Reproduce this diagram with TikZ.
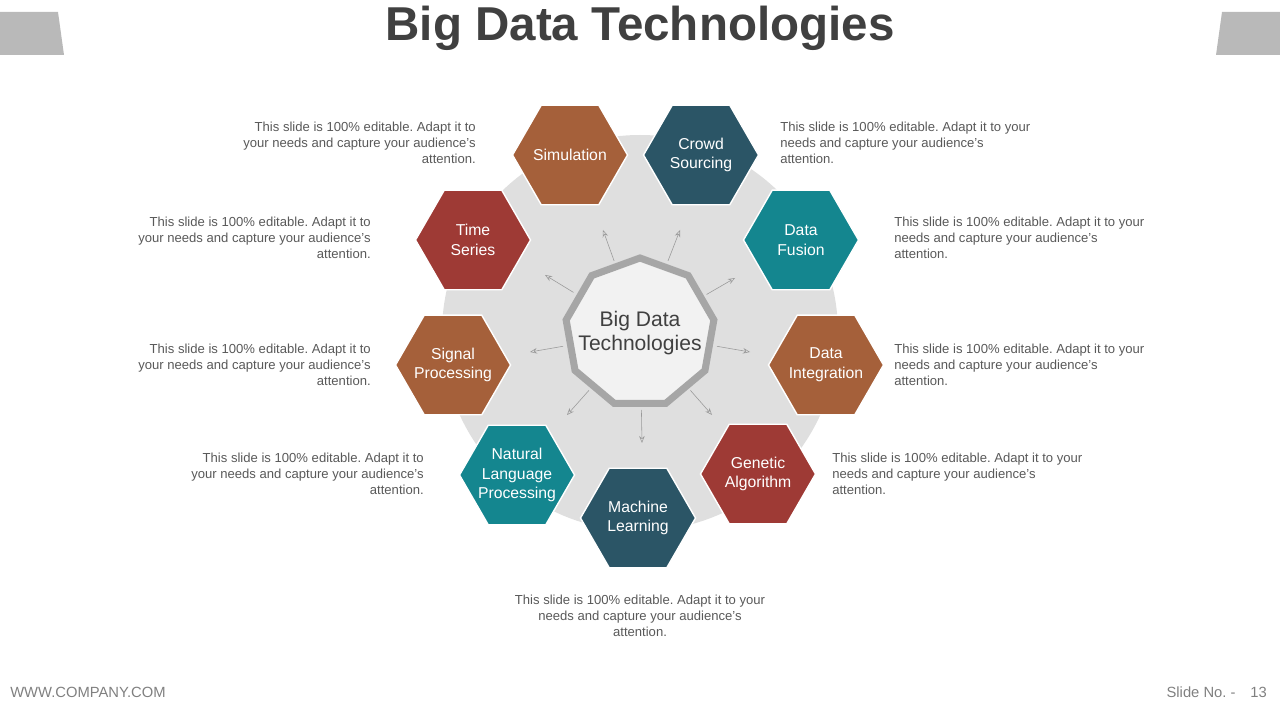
\documentclass[tikz,border=0pt]{standalone}
\usepackage{fontspec}
\setmainfont{Liberation Sans}
\frenchspacing
\usetikzlibrary{shapes.geometric, arrows.meta, calc}
\definecolor{hexbrown}{HTML}{A5603A}
\definecolor{hexdark}{HTML}{2B5566}
\definecolor{hexteal}{HTML}{14868F}
\definecolor{hexred}{HTML}{9E3A35}
\definecolor{txtgray}{HTML}{595959}
\tikzset{
  hexa/.style 2 args={regular polygon, regular polygon sides=6, minimum size=115*0.025cm,
    inner sep=0pt, draw=white, line width=1pt, fill=#1,
    label={[text=white, align=center, font=\fontsize{11.2}{14}\selectfont]center:#2}},
  note/.style={text=txtgray, font=\fontsize{9.3}{11.4}\selectfont, inner sep=0pt},
  spoke/.style={draw=gray!80, -{Stealth[length=5pt,width=4pt,open]}, line width=0.4pt}
}
\begin{document}
\begin{tikzpicture}[x=0.025cm, y=-0.025cm]
\useasboundingbox (0,0) rectangle (1280,720);
% top tabs
\fill[gray!55] (0,12) -- (58,12) -- (64,55) -- (0,55) -- cycle;
\fill[gray!55] (1280,12) -- (1222,12) -- (1216,55) -- (1280,55) -- cycle;
\node (title) at (640,28) {\fontsize{33.8}{36}\selectfont\bfseries\color{black!75} Big Data Technologies};
% back disc
\fill[gray!25] (640,333) circle (198);
% centre
\node (hub) at (640,333) [regular polygon, regular polygon sides=9, minimum size=150*0.025cm,
  inner sep=0pt, draw=gray!70, line width=5pt, fill=gray!10,
  label={[align=center, text=black!75, font=\fontsize{15}{17.5}\selectfont]center:Big Data\\Technologies}] {};
% spokes
\foreach \x/\y in {603/230, 680/230, 735/278, 750/352, 712/415, 642/443, 567/415, 530/352, 545/275}
  \draw[spoke] ($(640,333)!0.7!(\x,\y)$) -- (\x,\y);
% hexagons
\node (sim) at (570,155) [hexa={hexbrown}{Simulation}] {};
\node (crowd) at (701,155) [hexa={hexdark}{Crowd\\Sourcing}] {};
\node (fus) at (801,240) [hexa={hexteal}{Data\\Fusion}] {};
\node (integ) at (826,365) [hexa={hexbrown}{Data\\Integration}] {};
\node (gen) at (758,474) [hexa={hexred}{Genetic\\Algorithm}] {};
\node (ml) at (638,518) [hexa={hexdark}{Machine\\Learning}] {};
\node (nlp) at (517,475) [hexa={hexteal}{Natural\\Language\\Processing}] {};
\node (sig) at (453,365) [hexa={hexbrown}{Signal\\Processing}] {};
\node (ts) at (473,240) [hexa={hexred}{Time\\Series}] {};
% notes
\node[note, anchor=east, align=right] (n1) at (476,143) {This slide is 100\% editable. Adapt it to\\your needs and capture your audience's\\attention.};
\node[note, anchor=west, align=left] (n2) at (780,143) {This slide is 100\% editable. Adapt it to your\\needs and capture your audience's\\attention.};
\node[note, anchor=east, align=right] (n3) at (371,238) {This slide is 100\% editable. Adapt it to\\your needs and capture your audience's\\attention.};
\node[note, anchor=west, align=left] (n4) at (894,238) {This slide is 100\% editable. Adapt it to your\\needs and capture your audience's\\attention.};
\node[note, anchor=east, align=right] (n5) at (371,365) {This slide is 100\% editable. Adapt it to\\your needs and capture your audience's\\attention.};
\node[note, anchor=west, align=left] (n6) at (894,365) {This slide is 100\% editable. Adapt it to your\\needs and capture your audience's\\attention.};
\node[note, anchor=east, align=right] (n7) at (424,474) {This slide is 100\% editable. Adapt it to\\your needs and capture your audience's\\attention.};
\node[note, anchor=west, align=left] (n8) at (832,474) {This slide is 100\% editable. Adapt it to your\\needs and capture your audience's\\attention.};
\node[note, align=center] (n9) at (640,616) {This slide is 100\% editable. Adapt it to your\\needs and capture your audience's\\attention.};
% footer
\node[note, anchor=west, text=gray, font=\fontsize{10.5}{12}\selectfont] (web) at (10,692) {WWW.COMPANY.COM};
\node[note, anchor=east, text=gray, font=\fontsize{10.5}{12}\selectfont] (slno) at (1267,692) {Slide No. -\quad 13};
\end{tikzpicture}
\end{document}
